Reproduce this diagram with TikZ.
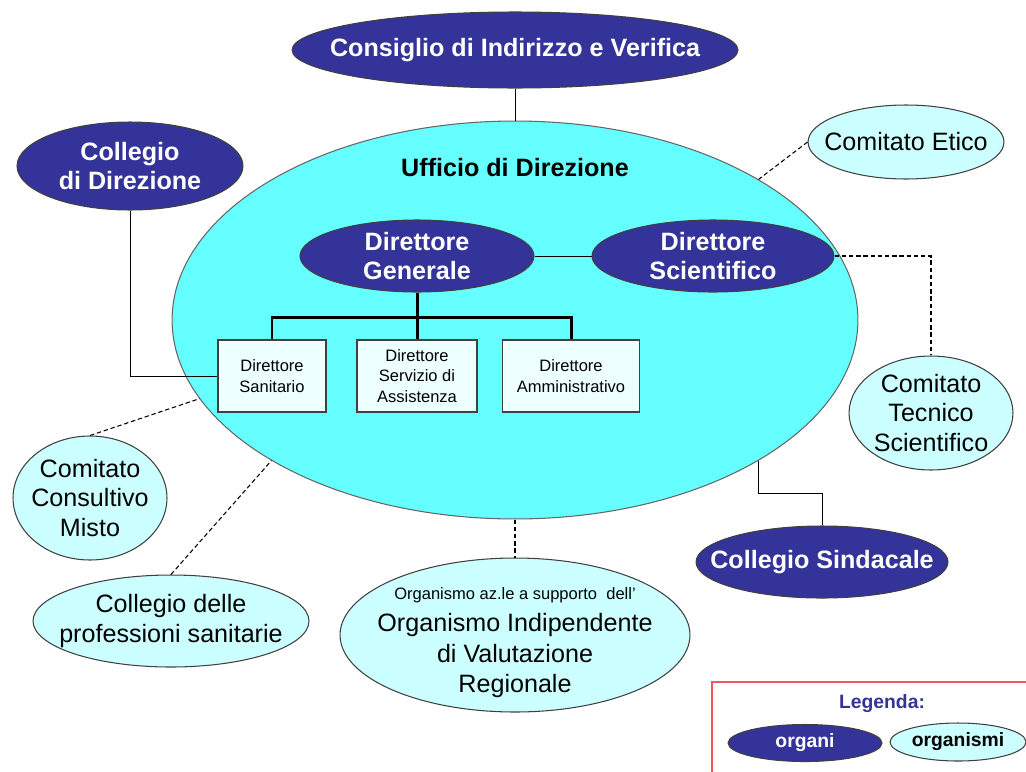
\documentclass[tikz,border=0pt]{standalone}
\usepackage{fontspec}
\setmainfont{Liberation Sans}
\usetikzlibrary{shapes.geometric}
\definecolor{navy}{HTML}{333399}
\definecolor{ciano}{HTML}{66FFFF}
\definecolor{cianochiaro}{HTML}{CCFFFF}
\definecolor{boxfill}{HTML}{EEFFFF}
\definecolor{bordo}{HTML}{F05A5A}
\begin{document}
\begin{tikzpicture}[x=0.02cm,y=-0.02cm]
\tikzstyle{organo}=[ellipse,draw=black!75,line width=0.6pt,fill=navy,text=white,font=\bfseries\fontsize{14.3}{17}\selectfont,align=center,inner xsep=-40pt,inner ysep=-10pt]
\tikzstyle{organismo}=[ellipse,draw=black!75,line width=0.6pt,fill=cianochiaro,font=\fontsize{14.3}{17}\selectfont,align=center,inner xsep=-40pt,inner ysep=-10pt]
\tikzstyle{direttore}=[rectangle,draw=black!75,line width=0.6pt,fill=boxfill,font=\fontsize{9.4}{11.9}\selectfont,align=center,minimum height=1.44cm]
\tikzstyle{tree}=[line width=1.7pt]
\tikzstyle{link}=[line width=0.5pt]
\tikzstyle{dlink}=[line width=0.6pt,dash pattern=on 2.5pt off 1.6pt]
\useasboundingbox (0,0) rectangle (1026,771);

\node[ellipse,draw=black!60,line width=0.6pt,fill=ciano,minimum width=13.72cm,minimum height=7.96cm] at (515,320) (uff) {};
\node[font=\bfseries\fontsize{14.3}{17}\selectfont] at (515,168) (ufftitle) {Ufficio di Direzione};

\node[organo,minimum width=8.92cm,minimum height=1.52cm] at (515,50) (cons) {Consiglio di Indirizzo e Verifica};
\node[organo,minimum width=4.52cm,minimum height=1.76cm] at (130,166) (coldir) {Collegio\\di Direzione};
\node[organo,minimum width=4.68cm,minimum height=1.44cm] at (417,256) (dg) {Direttore\\Generale};
\node[organo,minimum width=4.84cm,minimum height=1.44cm] at (713,256) (ds) {Direttore\\Scientifico};
\node[organo,minimum width=5.04cm,minimum height=1.44cm] at (822,562) (colsin) {Collegio Sindacale};

\node[organismo,minimum width=3.92cm,minimum height=1.48cm] at (906,142) (etico) {Comitato Etico};
\node[organismo,minimum width=3.28cm,minimum height=2.28cm] at (931,413) (cts) {Comitato\\Tecnico\\Scientifico};
\node[organismo,minimum width=3.08cm,minimum height=2.48cm] at (90,498) (ccm) {Comitato\\Consultivo\\Misto};
\node[organismo,minimum width=5.52cm,minimum height=1.84cm] at (171,621) (cps) {Collegio delle\\professioni sanitarie};
\node[organismo,font=\fontsize{14.3}{17.6}\selectfont,minimum width=7.0cm,minimum height=3.08cm] at (515,635) (oiv) {\rule{0pt}{15.5pt}{\fontsize{9.4}{12}\selectfont Organismo az.le a supporto\ \ dell'}\\[0.6pt]Organismo Indipendente\\di Valutazione\\Regionale};

\node[direttore,minimum width=2.16cm] at (272,376) (sanit) {Direttore\\Sanitario};
\node[direttore,minimum width=2.4cm] at (417,376) (serv) {Direttore\\Servizio di\\Assistenza};
\node[direttore,minimum width=2.74cm] at (571,376) (amm) {Direttore\\Amministrativo};
\coordinate (bar) at (417,317);

\draw[link] (cons.south) -- (uff.north);
\draw[link] (coldir.south) |- (sanit.west);
\draw[link] (dg) -- (ds);
\draw[link] (uff.330) -- ++(0,33) -| (colsin.north);
\draw[tree] (dg.south) -- (serv.north);
\draw[tree] (sanit.north) |- (bar) -| (amm.north);

\draw[dlink] (etico.west) -- (uff.30);
\draw[dlink] (ds.east) -| (cts.north);
\draw[dlink] (ccm.north) -- (uff.194);
\draw[dlink] (cps.north) -- (uff.210);
\draw[dlink] (uff.south) -- (oiv.north);

\draw[bordo,line width=0.8pt] (712,682) rectangle (1040,790);
\node[text=navy,font=\bfseries\fontsize{11}{13}\selectfont] at (882,704) (legenda) {Legenda:};
\node[organo,font=\bfseries\fontsize{11}{13}\selectfont,minimum width=3.08cm,minimum height=0.74cm] at (805,743) (organi) {organi};
\node[organismo,font=\bfseries\fontsize{11}{13}\selectfont,minimum width=2.72cm,minimum height=0.76cm] at (958,742) (organismi) {organismi};
\end{tikzpicture}
\end{document}
